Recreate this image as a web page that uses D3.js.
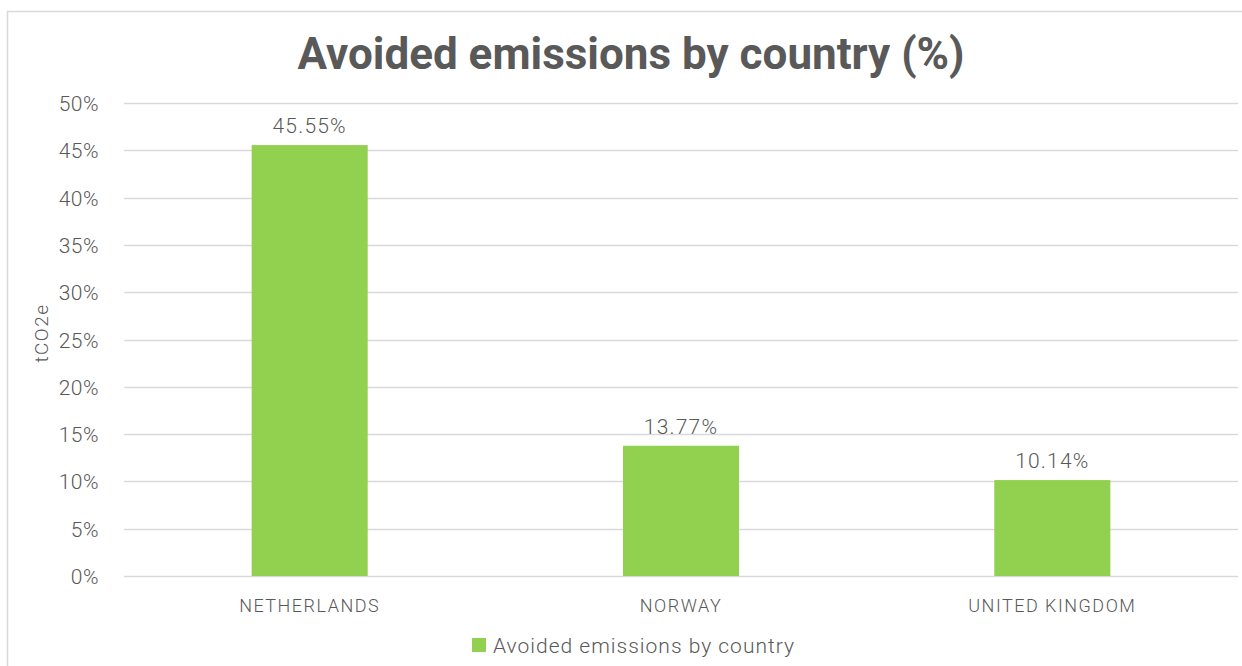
<!DOCTYPE html>
<html>
<head>
<meta charset="utf-8">
<script src="https://cdn.jsdelivr.net/npm/d3@7"></script>
<style>
  html, body { margin: 0; padding: 0; background: #fff; }
  svg { display: block; font-family: Roboto, "DejaVu Sans", sans-serif; }
</style>
</head>
<body>
<svg id="chart" width="1242" height="666"></svg>
<script>
// Chart data
const categories = ["NETHERLANDS", "NORWAY", "UNITED KINGDOM"];
const values = [45.55, 13.77, 10.14];
const yTicks = [0, 5, 10, 15, 20, 25, 30, 35, 40, 45, 50];
const seriesName = "Avoided emissions by country";
const titleText = "Avoided emissions by country (%)";
const yAxisTitle = "tCO2e";

const textColor = "#595959";
const barColor = "#92d050";
const gridColor = "#d9d9d9";

const svg = d3.select("#chart");

// Outer chart frame
svg.append("rect")
  .attr("x", 7.5).attr("y", 11.5)
  .attr("width", 1250).attr("height", 670)
  .attr("fill", "#fff").attr("stroke", "#d9d9d9").attr("stroke-width", 1.5);

const plot = { left: 124, right: 1238, top: 103, bottom: 576 };

const x = d3.scaleBand()
  .domain(categories)
  .range([plot.left, plot.right])
  .paddingInner(0.6875)
  .paddingOuter(0.34375);

const y = d3.scaleLinear()
  .domain([0, 50])
  .range([plot.bottom, plot.top]);

// Gridlines
svg.append("g")
  .selectAll("line")
  .data(yTicks)
  .join("line")
  .attr("x1", plot.left).attr("x2", plot.right)
  .attr("y1", d => Math.round(y(d)) + 0.5).attr("y2", d => Math.round(y(d)) + 0.5)
  .attr("stroke", gridColor).attr("stroke-width", 1.5);

// Y axis labels
const yAxis = d3.axisLeft(y)
  .tickValues(yTicks)
  .tickFormat(d => d + "%")
  .tickSize(0)
  .tickPadding(0);

const yg = svg.append("g")
  .attr("transform", `translate(${plot.left - 25},0)`)
  .call(yAxis);
yg.select(".domain").remove();
yg.selectAll("text")
  .attr("fill", textColor)
  .attr("font-size", 21)
  .attr("font-weight", 300)
  .attr("letter-spacing", "0.5px")
  .attr("font-family", "Roboto, sans-serif")
  .attr("dy", "0.36em");

// Bars
svg.append("g")
  .selectAll("rect")
  .data(values)
  .join("rect")
  .attr("x", (d, i) => x(categories[i]))
  .attr("width", x.bandwidth())
  .attr("y", d => y(d))
  .attr("height", d => y(0) - y(d))
  .attr("fill", barColor);

// Value labels
svg.append("g")
  .selectAll("text")
  .data(values)
  .join("text")
  .attr("x", (d, i) => x(categories[i]) + x.bandwidth() / 2)
  .attr("y", d => y(d) - 12)
  .attr("text-anchor", "middle")
  .attr("fill", textColor)
  .attr("font-size", 21)
  .attr("font-weight", 300)
  .attr("letter-spacing", "1.2px")
  .text(d => d.toFixed(2) + "%");

// Category labels
const xAxis = d3.axisBottom(x).tickSize(0).tickPadding(0);
const xg = svg.append("g")
  .attr("transform", `translate(0,${plot.bottom + 36})`)
  .call(xAxis);
xg.select(".domain").remove();
xg.selectAll("text")
  .attr("fill", textColor)
  .attr("font-size", 18)
  .attr("font-weight", 300)
  .attr("letter-spacing", "1.5px")
  .attr("font-family", "Roboto, sans-serif")
  .attr("dy", 0);

// Y axis title
svg.append("text")
  .attr("transform", "translate(48,333) rotate(-90)")
  .attr("text-anchor", "middle")
  .attr("fill", textColor)
  .attr("font-size", 19)
  .attr("font-weight", 300)
  .attr("letter-spacing", "1.5px")
  .text(yAxisTitle);

// Title
svg.append("text")
  .attr("x", 631)
  .attr("y", 69)
  .attr("text-anchor", "middle")
  .attr("fill", textColor)
  .attr("font-size", 44)
  .attr("font-weight", "bold")
  .text(titleText);

// Legend
const legend = svg.append("g").attr("transform", "translate(472,638)");
legend.append("rect")
  .attr("width", 14).attr("height", 14)
  .attr("fill", barColor);
legend.append("text")
  .attr("x", 21).attr("y", 15)
  .attr("fill", textColor)
  .attr("font-size", 21)
  .attr("font-weight", 300)
  .attr("letter-spacing", "1px")
  .text(seriesName);
</script>
</body>
</html>
